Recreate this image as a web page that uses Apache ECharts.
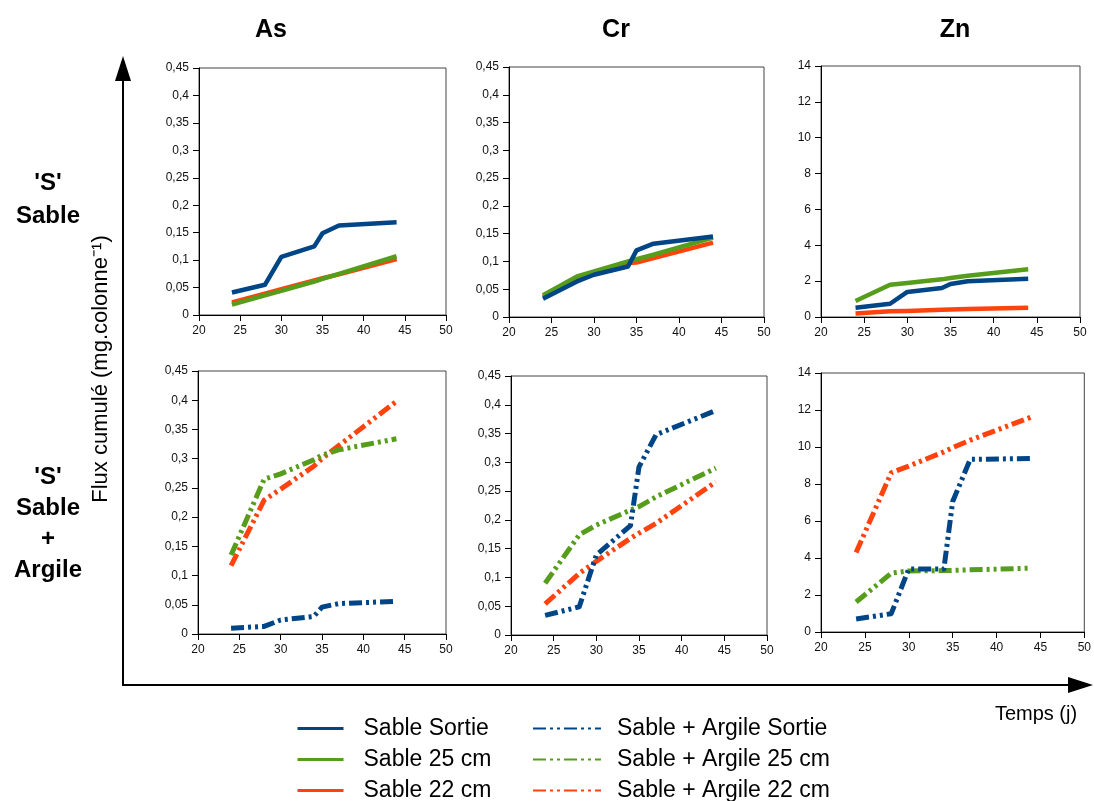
<!DOCTYPE html>
<html>
<head>
<meta charset="utf-8">
<script src="https://cdn.jsdelivr.net/npm/echarts@6/dist/echarts.min.js"></script>
<style>html,body{margin:0;padding:0;background:#fff}#c{width:1094px;height:801px}</style>
</head>
<body>
<div id="c"></div>
<script>
// ---- data ----
const jours = [24, 28, 30, 34, 35, 37, 44];
const xTicks = [20, 25, 30, 35, 40, 45, 50];
const elements = ['As', 'Cr', 'Zn'];
const nomsSable = ['Sable Sortie', 'Sable 25 cm', 'Sable 22 cm'];
const nomsArgile = ['Sable + Argile Sortie', 'Sable + Argile 25 cm', 'Sable + Argile 22 cm'];

// 'S' Sable
const asSortie = [0.041, 0.055, 0.106, 0.125, 0.149, 0.163, 0.169];
const as25     = [0.019, 0.036, 0.044, 0.061, 0.066, 0.075, 0.107];
const as22     = [0.023, 0.039, 0.047, 0.063, 0.067, 0.074, 0.102];
const crSortie = [0.033, 0.064, 0.076, 0.091, 0.120, 0.132, 0.145];
const cr25     = [0.039, 0.073, 0.082, 0.100, 0.104, 0.112, 0.143];
const cr22     = [0.036, 0.068, 0.079, 0.097, 0.098, 0.106, 0.134];
const znSortie = [0.52, 0.74, 1.40, 1.62, 1.84, 1.99, 2.14];
const zn25     = [0.89, 1.80, 1.90, 2.10, 2.18, 2.30, 2.66];
const zn22     = [0.19, 0.32, 0.34, 0.40, 0.42, 0.45, 0.52];

// 'S' Sable + Argile
const asaSortie = [0.010, 0.013, 0.024, 0.030, 0.046, 0.052, 0.056];
const asa25     = [0.135, 0.265, 0.274, 0.298, 0.306, 0.315, 0.334];
const asa22     = [0.117, 0.229, 0.248, 0.287, 0.300, 0.322, 0.398];
const craSortie = [0.034, 0.049, 0.139, 0.190, 0.292, 0.348, 0.390];
const cra25     = [0.090, 0.174, 0.191, 0.217, 0.223, 0.240, 0.290];
const cra22     = [0.054, 0.107, 0.128, 0.168, 0.177, 0.194, 0.266];
const znaSortie = [0.70, 0.99, 3.41, 3.41, 7.05, 9.33, 9.38];
const zna25     = [1.62, 3.18, 3.30, 3.32, 3.33, 3.36, 3.45];
const zna22     = [4.30, 8.61, 8.97, 9.74, 9.97, 10.37, 11.63];

// ---- layout / style ----
const FONT = "'Liberation Sans', Arial, sans-serif";
const BLUE = '#004586', GREEN = '#579d1c', RED = '#ff420e';
const grids = [
  {left: 199, top: 68, width: 247, height: 247},
  {left: 509, top: 67, width: 255, height: 250},
  {left: 821, top: 66, width: 259, height: 251},
  {left: 198, top: 371, width: 248, height: 263},
  {left: 511, top: 376, width: 256, height: 259},
  {left: 821, top: 373, width: 266, height: 259}
];
const yScales = [
  {max: 0.45, interval: 0.05}, {max: 0.45, interval: 0.05}, {max: 14, interval: 2},
  {max: 0.45, interval: 0.05}, {max: 0.45, interval: 0.05}, {max: 14, interval: 2}
];
const panelData = [
  [asSortie, as25, as22], [crSortie, cr25, cr22], [znSortie, zn25, zn22],
  [asaSortie, asa25, asa22], [craSortie, cra25, cra22], [znaSortie, zna25, zna22]
];
const colors = [BLUE, GREEN, RED];
const DASH = [13, 4, 3, 4, 3, 4];

const fmt = v => String(Math.round(v * 100) / 100).replace('.', ',');

const axisCommon = {
  axisLine: {show: true, lineStyle: {color: '#000', width: 1}},
  axisTick: {show: true, length: 6, lineStyle: {color: '#000'}},
  splitLine: {show: false},
  axisLabel: {fontSize: 12, color: '#111', fontFamily: FONT}
};

const xAxis = grids.map((g, i) => Object.assign({}, axisCommon, {
  type: 'value', gridIndex: i, min: xTicks[0], max: xTicks[xTicks.length - 1], interval: 5,
  axisLabel: Object.assign({}, axisCommon.axisLabel, {margin: 10})
}));
const yAxis = grids.map((g, i) => Object.assign({}, axisCommon, {
  type: 'value', gridIndex: i, min: 0, max: yScales[i].max, interval: yScales[i].interval,
  axisLabel: Object.assign({}, axisCommon.axisLabel, {margin: 10, formatter: fmt})
}));

const series = [];
panelData.forEach((arrs, i) => {
  const bottom = i >= 3;
  const names = bottom ? nomsArgile : nomsSable;
  // draw order: 22 cm, 25 cm, Sortie on top
  [2, 1, 0].forEach(k => {
    series.push({
      type: 'line', name: names[k], xAxisIndex: i, yAxisIndex: i,
      data: jours.map((d, j) => [d, arrs[k][j]]),
      symbol: 'none', silent: true, z: 2 + (2 - k),
      itemStyle: {color: colors[k]},
      lineStyle: {color: colors[k], width: bottom ? 5 : 4.5, type: bottom ? DASH : 'solid', cap: 'butt', join: 'round'}
    });
  });
});

const graphic = [
  // big axes arrows
  {type: 'line', shape: {x1: 123, y1: 78, x2: 123, y2: 685}, style: {stroke: '#000', lineWidth: 2}},
  {type: 'polygon', shape: {points: [[123, 56], [115, 81], [131, 81]]}, style: {fill: '#000'}},
  {type: 'line', shape: {x1: 122, y1: 685, x2: 1072, y2: 685}, style: {stroke: '#000', lineWidth: 2}},
  {type: 'polygon', shape: {points: [[1093, 685], [1068, 677], [1068, 693]]}, style: {fill: '#000'}},
  // column titles
  {type: 'text', x: 271, y: 30, style: {text: 'As', font: 'bold 25px ' + FONT, fill: '#000', align: 'center', verticalAlign: 'middle'}},
  {type: 'text', x: 616, y: 30, style: {text: 'Cr', font: 'bold 25px ' + FONT, fill: '#000', align: 'center', verticalAlign: 'middle'}},
  {type: 'text', x: 955, y: 30, style: {text: 'Zn', font: 'bold 25px ' + FONT, fill: '#000', align: 'center', verticalAlign: 'middle'}},
  // row labels
  {type: 'text', x: 48, y: 183, style: {text: "'S'", font: 'bold 24px ' + FONT, fill: '#000', align: 'center', verticalAlign: 'middle'}},
  {type: 'text', x: 48, y: 216, style: {text: 'Sable', font: 'bold 24px ' + FONT, fill: '#000', align: 'center', verticalAlign: 'middle'}},
  {type: 'text', x: 48, y: 477, style: {text: "'S'", font: 'bold 24px ' + FONT, fill: '#000', align: 'center', verticalAlign: 'middle'}},
  {type: 'text', x: 48, y: 508, style: {text: 'Sable', font: 'bold 24px ' + FONT, fill: '#000', align: 'center', verticalAlign: 'middle'}},
  {type: 'text', x: 48, y: 539, style: {text: '+', font: 'bold 24px ' + FONT, fill: '#000', align: 'center', verticalAlign: 'middle'}},
  {type: 'text', x: 48, y: 570, style: {text: 'Argile', font: 'bold 24px ' + FONT, fill: '#000', align: 'center', verticalAlign: 'middle'}},
  // y title
  {type: 'text', x: 101, y: 369, rotation: Math.PI / 2,
   style: {text: 'Flux cumulé (mg.colonne⁻¹)', font: '22px ' + FONT, fill: '#000', align: 'center', verticalAlign: 'middle'}},
  // x title
  {type: 'text', x: 1036, y: 714, style: {text: 'Temps (j)', font: '20px ' + FONT, fill: '#000', align: 'center', verticalAlign: 'middle'}}
];

const legend = [
  {data: nomsSable, orient: 'vertical', left: 296, top: 717, height: 100, padding: 0,
   itemWidth: 46, itemHeight: 14, itemGap: 8,
   selectedMode: false, lineStyle: {width: 3}, itemStyle: {opacity: 0},
   textStyle: {fontSize: 23, color: '#000', fontFamily: FONT, padding: [0, 0, 0, 15]}},
  {data: nomsArgile, orient: 'vertical', left: 532, top: 717, height: 100, padding: 0,
   itemWidth: 68, itemHeight: 14, itemGap: 8,
   selectedMode: false, lineStyle: {width: 2}, itemStyle: {opacity: 0},
   textStyle: {fontSize: 23, color: '#000', fontFamily: FONT, padding: [0, 0, 0, 11]}}
];

const chart = echarts.init(document.getElementById('c'), null, {renderer: 'canvas'});
chart.setOption({
  animation: false,
  backgroundColor: '#fff',
  textStyle: {fontFamily: FONT},
  grid: grids.map(g => Object.assign({show: true, borderColor: '#444', borderWidth: 1, backgroundColor: 'transparent'}, g)),
  xAxis, yAxis, series, legend, graphic
});
</script>
</body>
</html>
